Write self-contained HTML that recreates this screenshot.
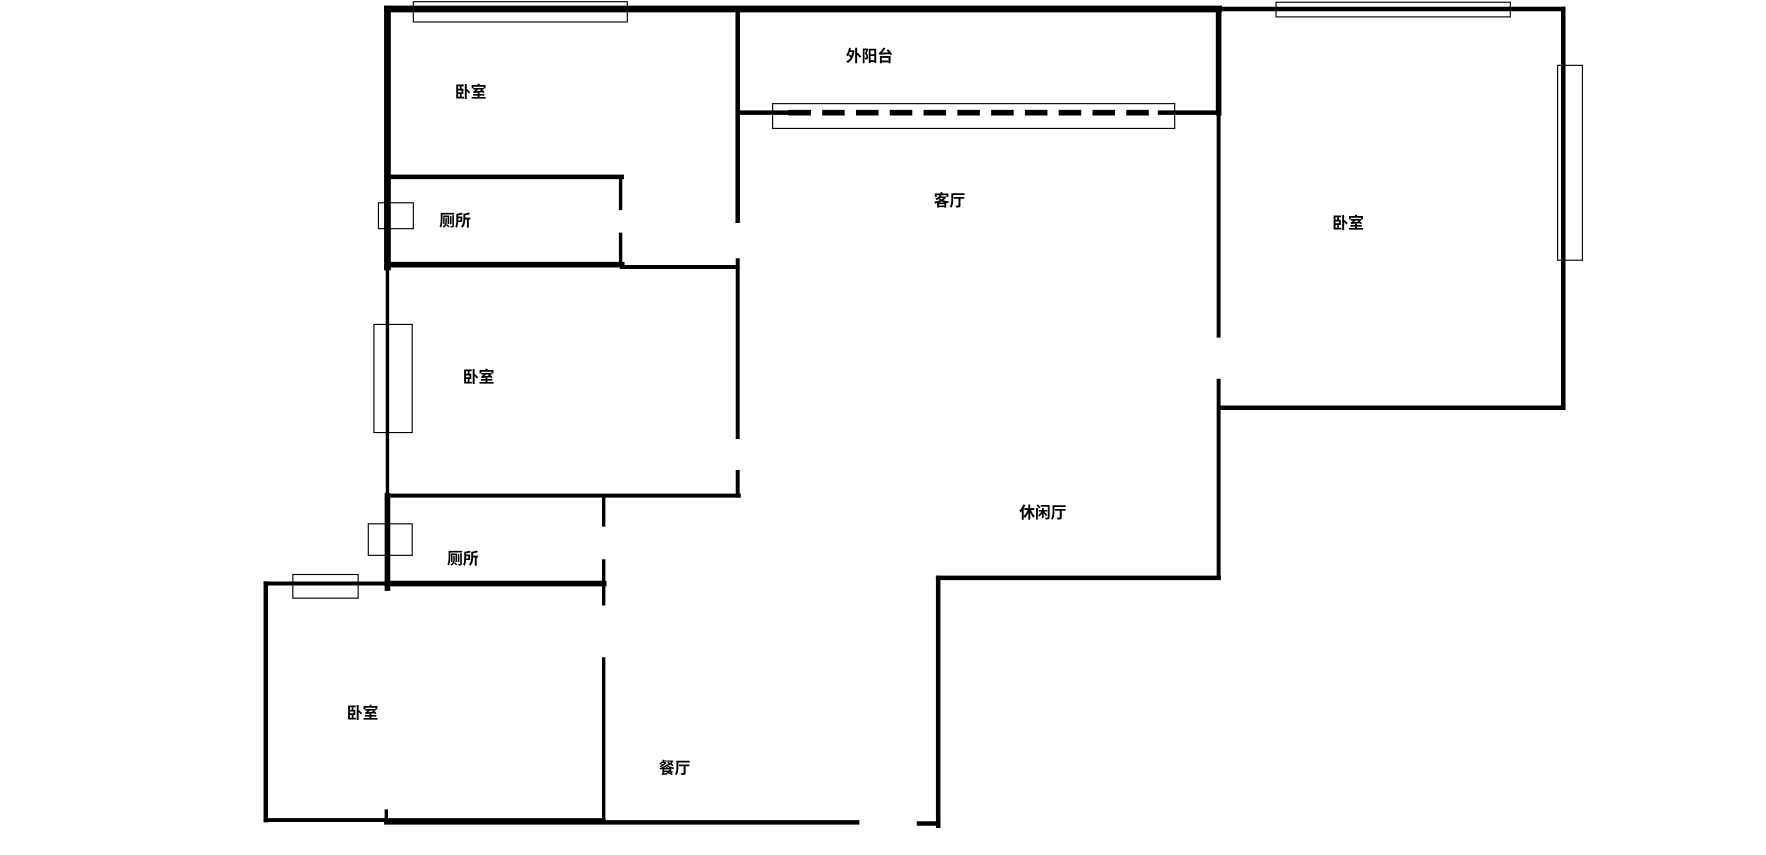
<!DOCTYPE html>
<html><head><meta charset="utf-8"><style>
html,body{margin:0;padding:0;background:#fff;}
svg{display:block;}
text{font-family:"Liberation Sans","Noto Sans CJK SC",sans-serif;font-size:14px;font-weight:bold;fill:#000;text-anchor:middle;dominant-baseline:middle;}
</style></head><body>
<svg width="1766" height="855" viewBox="0 0 1568 759" preserveAspectRatio="none" xmlns="http://www.w3.org/2000/svg">
<g stroke="#000" fill="none" stroke-linecap="square">
<line x1="344" y1="8" x2="1082" y2="8" stroke-width="6"/>
<line x1="1082" y1="8" x2="1388" y2="8" stroke-width="4"/>
<line x1="1388" y1="8" x2="1388" y2="362" stroke-width="4"/>
<line x1="1083" y1="362" x2="1388" y2="362" stroke-width="4"/>
<line x1="1082" y1="8" x2="1082" y2="100" stroke-width="5"/>
<line x1="1082" y1="100" x2="1082" y2="298" stroke-width="3.5"/>
<line x1="1082" y1="338" x2="1082" y2="513" stroke-width="3.5"/>
<line x1="833" y1="513" x2="1082" y2="513" stroke-width="4"/>
<line x1="833" y1="513" x2="833" y2="733" stroke-width="4"/>
<line x1="343" y1="730" x2="761" y2="730" stroke-width="4"/>
<line x1="816" y1="731" x2="833" y2="731" stroke-width="4"/>
<line x1="344" y1="8" x2="344" y2="237" stroke-width="6"/>
<line x1="344" y1="237" x2="344" y2="440" stroke-width="3"/>
<line x1="344" y1="440" x2="344" y2="522" stroke-width="5"/>
<line x1="655" y1="8" x2="655" y2="196" stroke-width="4"/>
<line x1="655" y1="231" x2="655" y2="388" stroke-width="3.5"/>
<line x1="655" y1="419" x2="655" y2="440" stroke-width="3.5"/>
<line x1="655" y1="100" x2="700" y2="100" stroke-width="4"/>
<line x1="1030" y1="100" x2="1082" y2="100" stroke-width="4"/>
<line x1="700" y1="100" x2="1030" y2="100" stroke-width="5" stroke-dasharray="20,10" stroke-linecap="butt"/>
<line x1="344" y1="157" x2="552" y2="157" stroke-width="4"/>
<line x1="551" y1="157" x2="551" y2="185" stroke-width="3"/>
<line x1="551" y1="208" x2="551" y2="235" stroke-width="3"/>
<line x1="344" y1="235" x2="552" y2="235" stroke-width="5"/>
<line x1="552" y1="237" x2="655" y2="237" stroke-width="3.5"/>
<line x1="344" y1="440" x2="656" y2="440" stroke-width="3.5"/>
<line x1="536" y1="441" x2="536" y2="466" stroke-width="3"/>
<line x1="536" y1="498" x2="536" y2="536" stroke-width="3"/>
<line x1="536" y1="585" x2="536" y2="727" stroke-width="3"/>
<line x1="344" y1="518" x2="536" y2="518" stroke-width="5"/>
<line x1="236" y1="518" x2="344" y2="518" stroke-width="3.5"/>
<line x1="236" y1="518" x2="236" y2="728" stroke-width="4"/>
<line x1="236" y1="728" x2="536" y2="728" stroke-width="3.5"/>
<line x1="343" y1="720" x2="343" y2="730" stroke-width="3"/>
<g stroke-width="1">
<rect x="367" y="1.5" width="190" height="18"/>
<rect x="1133" y="2" width="208" height="13"/>
<rect x="1383" y="58" width="22" height="173"/>
<rect x="686" y="92" width="357" height="22"/>
<rect x="336" y="180" width="31" height="23"/>
<rect x="332" y="288" width="34" height="96"/>
<rect x="327" y="465" width="39" height="28"/>
<rect x="260" y="510" width="58" height="21"/>
</g>
</g>
<text x="418" y="83">卧室</text>
<text x="772" y="51">外阳台</text>
<text x="404" y="197">厕所</text>
<text x="843" y="179">客厅</text>
<text x="1197" y="199">卧室</text>
<text x="425" y="336">卧室</text>
<text x="926" y="456">休闲厅</text>
<text x="411" y="497">厕所</text>
<text x="322" y="634">卧室</text>
<text x="599" y="683">餐厅</text>
</svg>
</body></html>
